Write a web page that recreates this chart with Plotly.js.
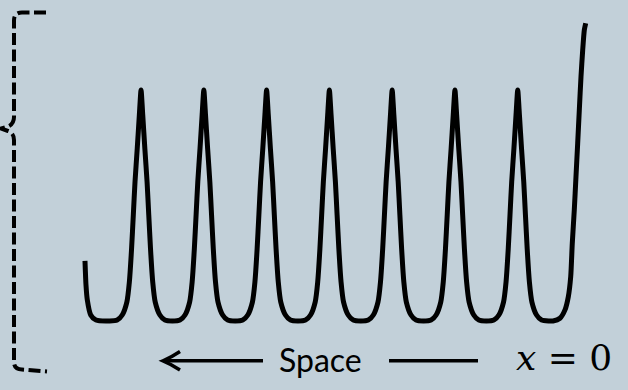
<!DOCTYPE html>
<html>
<head>
<meta charset="utf-8">
<script src="https://cdn.plot.ly/plotly-3.0.1.min.js"></script>
<style>
  html, body { margin: 0; padding: 0; background: #c2d0d9; }
  #chart { width: 628px; height: 390px; }
</style>
</head>
<body>
<div id="chart"></div>
<script>
// Transmission pattern along space: identical fringes, then the tall one at x = 0.
// Positions are in fringe periods (x = 0 at the right), levels relative to a fringe peak.
const peakCenters = [-7, -6, -5, -4, -3, -2, -1];

// One fringe, read as offset from its centre and level above the floor.
const profileOffset = [-0.5, -0.38, -0.3, -0.226, -0.186, -0.151, -0.123, -0.096, -0.061, -0.027,
                       0, 0.027, 0.061, 0.096, 0.123, 0.151, 0.186, 0.226, 0.3, 0.38];
const profileLevel  = [0, 0.004, 0.026, 0.082, 0.169, 0.312, 0.459, 0.602, 0.745, 0.892,
                       1.0, 0.892, 0.745, 0.602, 0.459, 0.312, 0.169, 0.082, 0.026, 0.004];

// Left end of the trace (falling edge of a fringe outside the view).
const startX = [-7.893, -7.877, -7.856, -7.802, -7.718];
const startY = [0.26, 0.156, 0.091, 0.026, 0.004];

// Right end: rising edge of the central fringe at x = 0.
const endX = [-0.5, -0.438, -0.327, -0.247, -0.194, -0.156, -0.131, -0.099, -0.072,
              -0.045, -0.019, 0.008, 0.035, 0.061, 0.083];
const endY = [0, 0, 0.012, 0.048, 0.105, 0.192, 0.336, 0.481, 0.625,
              0.769, 0.913, 1.058, 1.173, 1.26, 1.289];

const axisLabel = 'Space';
const originLabel = '<i>x</i> = 0';

// Assemble the trace from the pieces above.
const xs = startX.slice();
const ys = startY.slice();
peakCenters.forEach(c => {
  profileOffset.forEach((o, i) => { xs.push(c + o); ys.push(profileLevel[i]); });
});
endX.forEach((v, i) => { xs.push(v); ys.push(endY[i]); });

const W = 628, H = 390;
const BG = '#c2d0d9';

// Pixel -> paper helpers for the decorations.
const px = v => v / W;
const py = v => 1 - v / H;
function pathOf(cmds) {
  return cmds.map(c => {
    const op = c[0];
    const pts = [];
    for (let i = 1; i < c.length; i += 2) pts.push(px(c[i]).toFixed(5) + ',' + py(c[i + 1]).toFixed(5));
    return op + pts.join(' ');
  }).join(' ');
}

const bracket = pathOf([
  ['M', 46, 12.5], ['L', 22, 12.5], ['Q', 14, 12.5, 14, 20.5],
  ['L', 14, 117], ['Q', 14, 124, 8, 126.5], ['L', 1, 128.5],
  ['L', 8, 131], ['Q', 14, 133, 14, 140],
  ['L', 14, 362], ['Q', 14, 369.5, 22, 369.5], ['L', 47, 371.5]
]);

const arrowHead = pathOf([
  ['M', 180, 351.5], ['Q', 171, 357.5, 163, 360.8], ['Q', 171, 364, 180, 370]
]);

const trace = {
  x: xs, y: ys, type: 'scatter', mode: 'lines',
  line: { color: '#000000', width: 5, shape: 'spline', smoothing: 0.6 },
  hoverinfo: 'skip'
};

const layout = {
  width: W, height: H,
  margin: { l: 0, r: 0, t: 0, b: 0, pad: 0 },
  paper_bgcolor: BG, plot_bgcolor: BG,
  showlegend: false,
  xaxis: { visible: false, range: [-9.2466, 0.7566], fixedrange: true },
  yaxis: { visible: false, range: [-0.2987, 1.3896], fixedrange: true },
  shapes: [
    { type: 'path', xref: 'paper', yref: 'paper', path: bracket,
      line: { color: '#000000', width: 4, dash: '12px,4.5px' } },
    { type: 'line', xref: 'paper', yref: 'paper',
      x0: px(165), x1: px(263), y0: py(360.8), y1: py(360.8),
      line: { color: '#000000', width: 3.6 } },
    { type: 'path', xref: 'paper', yref: 'paper', path: arrowHead,
      line: { color: '#000000', width: 3.4 } },
    { type: 'line', xref: 'paper', yref: 'paper',
      x0: px(389), x1: px(478), y0: py(360.8), y1: py(360.8),
      line: { color: '#000000', width: 3.6 } }
  ],
  annotations: [
    { text: axisLabel, xref: 'paper', yref: 'paper', x: px(320), y: py(359.3),
      xanchor: 'center', yanchor: 'middle', showarrow: false,
      font: { family: 'Lato, "Open Sans", sans-serif', size: 32, color: '#000000' } },
    { text: originLabel, xref: 'paper', yref: 'paper', x: px(563.5), y: py(357.5),
      xanchor: 'center', yanchor: 'middle', showarrow: false,
      font: { family: '"DejaVu Serif", serif', size: 36, color: '#000000' } }
  ]
};

Plotly.newPlot('chart', [trace], layout, { staticPlot: true, displayModeBar: false });
</script>
</body>
</html>
